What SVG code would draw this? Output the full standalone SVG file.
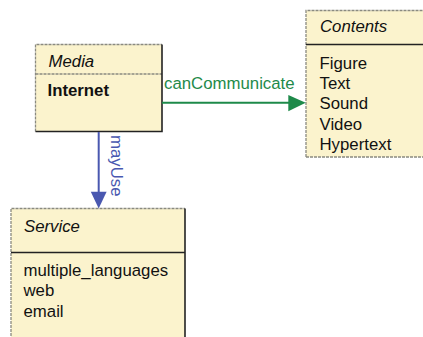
<svg xmlns="http://www.w3.org/2000/svg" width="423" height="337" viewBox="0 0 423 337">
<style>
  text { font-family: "Liberation Sans", Arial, sans-serif; font-size: 16.8px; fill: #111; }
  .title { font-style: italic; }
  .bold { font-weight: bold; }
  .box { fill: #fbf3cd; stroke: none; }
  .lite { fill: none; stroke: #8a8a80; stroke-width: 1.3; stroke-dasharray: 3 1; }
  .dark { fill: none; stroke: #222; stroke-width: 1.6; }
  .green { stroke: #1e8a4a; stroke-width: 2; fill: none; }
  .blue { stroke: #4a58b0; stroke-width: 2; fill: none; }
  .glabel { fill: #1e8a4a; }
  .blabel { fill: #4a58b0; }
</style>
<rect width="423" height="337" fill="#ffffff"/>
<g id="Media">
  <rect class="box" x="35.5" y="44.5" width="126.5" height="87"/>
  <polyline class="lite" points="35.5,131.5 35.5,44.5 162,44.5"/>
  <line class="lite" x1="35.5" y1="74" x2="162" y2="74"/>
  <polyline class="dark" points="162,44.5 162,131.5 35.5,131.5"/>
  <text class="title" x="48.5" y="66.5">Media</text>
  <text class="bold" x="47.5" y="96">Internet</text>
</g>
<g id="Contents">
  <rect class="box" x="306" y="10.5" width="120" height="146.5"/>
  <polyline class="lite" points="306,157 306,10.5 426,10.5"/>
  <line class="lite" x1="306" y1="157" x2="426" y2="157"/>
  <line class="dark" x1="306" y1="44.5" x2="426" y2="44.5"/>
  <text class="title" x="320" y="32">Contents</text>
  <text x="319.5" y="68.5">Figure</text>
  <text x="319.5" y="88.9">Text</text>
  <text x="319.5" y="109.3">Sound</text>
  <text x="319.5" y="129.7">Video</text>
  <text x="319.5" y="150.1">Hypertext</text>
</g>
<g id="Service">
  <rect class="box" x="11" y="208.5" width="174" height="135"/>
  <polyline class="lite" points="11,340 11,208.5 185,208.5"/>
  <line class="dark" x1="185" y1="208.5" x2="185" y2="340"/>
  <line class="dark" x1="11" y1="252.5" x2="185" y2="252.5"/>
  <text class="title" x="24" y="231.5">Service</text>
  <text x="23.5" y="276">multiple_languages</text>
  <text x="23.5" y="296.4">web</text>
  <text x="23.5" y="316.8">email</text>
</g>
<g id="connectors">
  <line class="green" x1="162" y1="102.7" x2="290" y2="102.7"/>
  <polygon points="288.3,95 305.7,102.7 288.3,111.2" fill="#1e8a4a"/>
  <text class="glabel" x="164" y="89">canCommunicate</text>
  <line class="blue" x1="98.7" y1="132" x2="98.7" y2="193"/>
  <polygon points="90.8,191.7 106.6,191.7 98.7,208.5" fill="#4a58b0"/>
  <text class="blabel" transform="translate(111,135) rotate(90)">mayUse</text>
</g>
</svg>
